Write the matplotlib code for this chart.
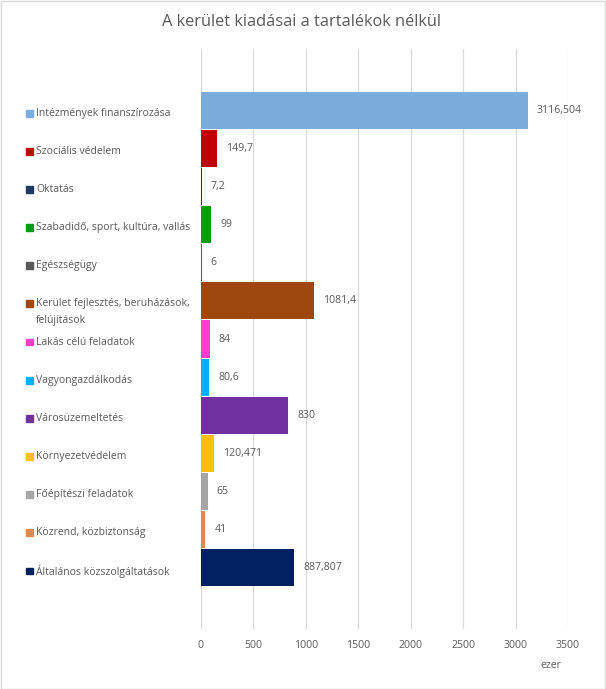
import matplotlib
matplotlib.use("Agg")
import matplotlib.pyplot as plt
from matplotlib.transforms import blended_transform_factory
from matplotlib.patches import Rectangle

categories = [
    "Intézmények finanszírozása",
    "Szociális védelem",
    "Oktatás",
    "Szabadidő, sport, kultúra, vallás",
    "Egészségügy",
    "Kerület fejlesztés, beruházások,\nfelújítások",
    "Lakás célú feladatok",
    "Vagyongazdálkodás",
    "Városüzemeltetés",
    "Környezetvédelem",
    "Főépítészi feladatok",
    "Közrend, közbiztonság",
    "Általános közszolgáltatások",
]
values = [3116.504, 149.7, 7.2, 99, 6, 1081.4, 84, 80.6, 830, 120.471, 65, 41, 887.807]
colors = ["#7AADDC", "#C00000", "#1F3864", "#0A9A0A", "#595959", "#9E480E",
          "#FF3FC8", "#00B0F0", "#7030A0", "#FFC000", "#A5A5A5", "#E0894A", "#002060"]
xticks = [0, 500, 1000, 1500, 2000, 2500, 3000, 3500]
title = "A kerület kiadásai a tartalékok nélkül"
unit = "ezer"

FONT = "Open Sans"
TXT = "#595959"
W, H = 606, 689
fig = plt.figure(figsize=(W / 100, H / 100), dpi=100)
ax = fig.add_axes([201 / W, 1 - 629 / H, (568 - 201) / W, (629 - 49) / H])

ypos = list(range(len(categories)))
ax.barh(ypos, values, height=0.97, color=colors, zorder=2)
ax.set_xlim(0, 3500)
ax.set_ylim(len(categories) - 1 + 1.6, -1.6)
ax.set_xticks(xticks)
ax.set_xticklabels([str(t) for t in xticks], fontsize=7.6, color=TXT, family=FONT)
ax.tick_params(axis="x", length=0, pad=8)
ax.set_yticks([])
for s in ax.spines.values():
    s.set_visible(False)
ax.grid(axis="x", color="#D9D9D9", linewidth=0.9, zorder=0)

for y, v in zip(ypos, values):
    ax.annotate(str(v).replace(".", ","), (v, y), xytext=(6.5, 0), textcoords="offset points",
                va="center", ha="left", fontsize=7.6, color=TXT, family=FONT)

tr = blended_transform_factory(fig.transFigure, ax.transData)
for y, lab, c in zip(ypos, categories, colors):
    lines = lab.split("\n")
    yl = y + 0.08
    ax.add_patch(Rectangle((26 / W, yl - 0.09), 6.5 / W, 0.18, transform=tr, color=c, clip_on=False))
    for i, ln in enumerate(lines):
        ax.text(36 / W, yl + i * 0.44, ln, transform=tr, va="center", ha="left",
                fontsize=7.5, color=TXT, family=FONT, clip_on=False)

fig.text(302 / W, 1 - 22 / H, title, ha="center", va="center", fontsize=11.8, color=TXT, family=FONT)
fig.text(551 / W, 1 - 665 / H, unit, ha="center", va="center", fontsize=7.6, color=TXT, family=FONT)

fig.patches.append(Rectangle((0.5 / W, 0.5 / H), 1 - 1.5 / W, 1 - 1.5 / H, transform=fig.transFigure,
                             fill=False, edgecolor="#D9D9D9", linewidth=1))
fig.savefig("out.png", dpi=100, facecolor="white")
